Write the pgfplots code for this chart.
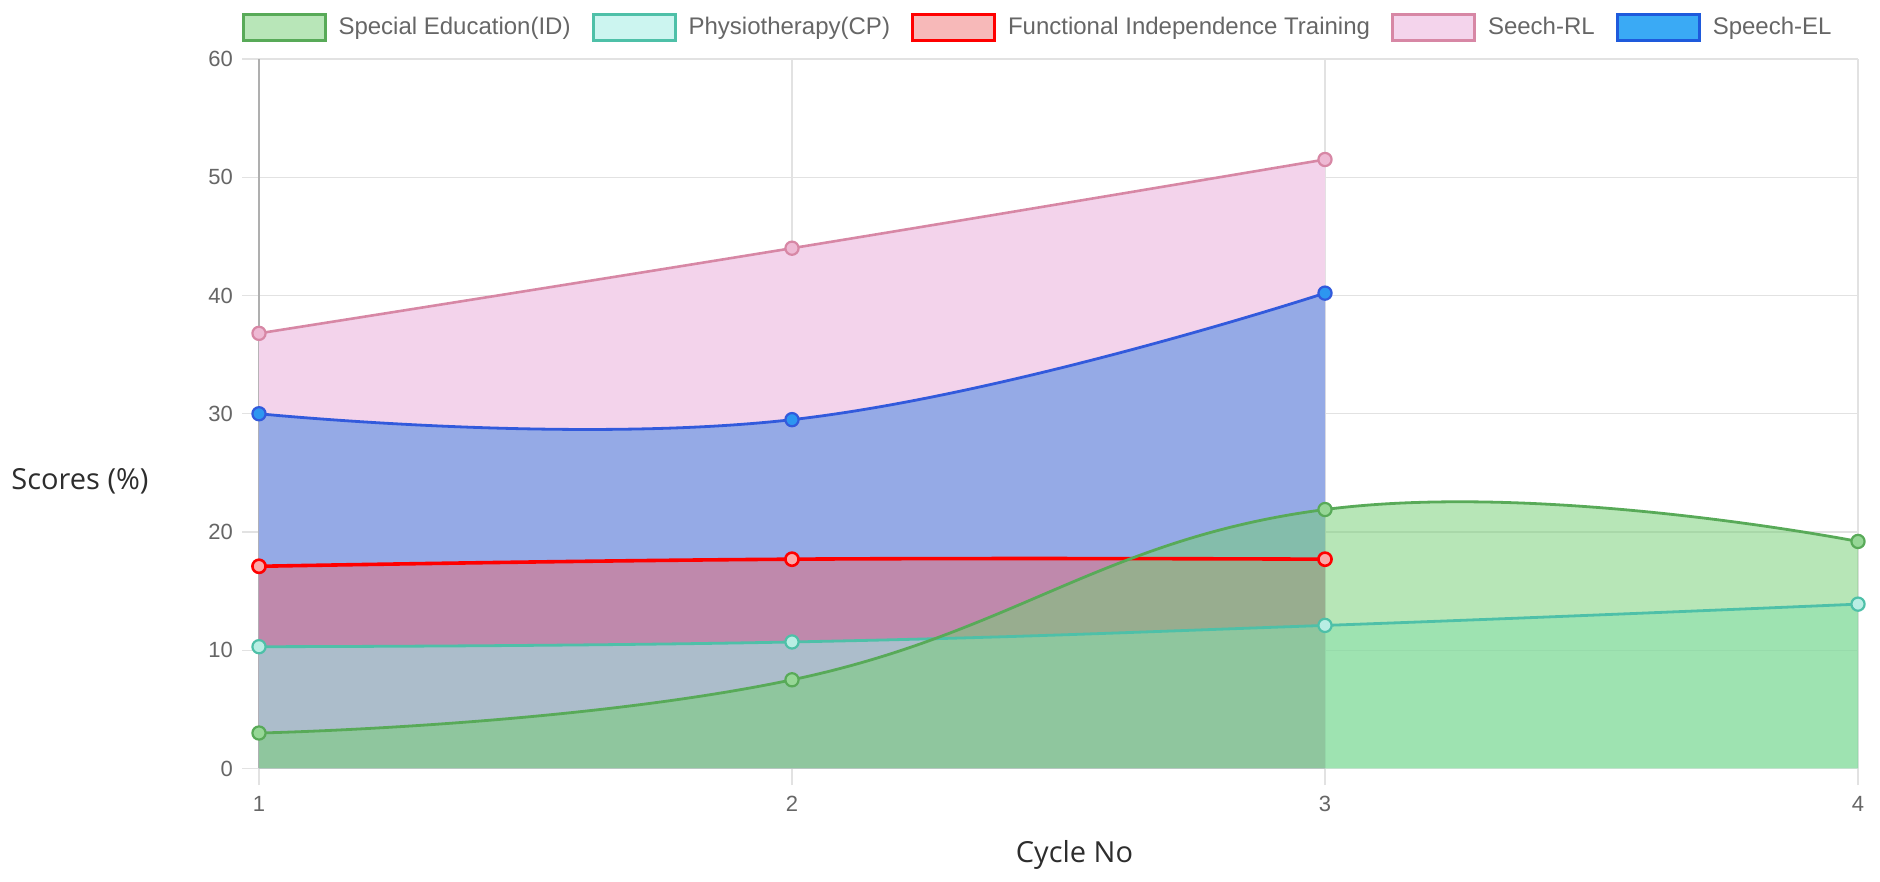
\documentclass[border=0pt]{standalone}
\usepackage{pgfplots}
\pgfplotsset{compat=1.18}
\usepackage{fontspec}
\setmainfont{Liberation Sans}
\newfontfamily\titlefont{Open Sans}

\definecolor{gridc}{RGB}{226,226,226}
\definecolor{axc}{RGB}{175,175,175}
\definecolor{tickc}{RGB}{102,102,102}
\definecolor{titc}{RGB}{45,45,45}
% fills
\definecolor{pinkF}{RGB}{243,211,235}
\definecolor{blueF}{RGB}{72,138,226}
\definecolor{redF}{RGB}{255,88,85}
\definecolor{tealF}{RGB}{154,242,234}
\definecolor{greenF}{RGB}{117,207,117}
% lines
\definecolor{greenL}{RGB}{88,170,88}
\definecolor{tealL}{RGB}{78,192,168}
\definecolor{redL}{RGB}{255,0,0}
\definecolor{pinkL}{RGB}{215,135,165}
\definecolor{blueL}{RGB}{50,90,220}
% markers
\definecolor{greenM}{RGB}{150,215,150}
\definecolor{tealM}{RGB}{185,238,228}
\definecolor{redM}{RGB}{250,170,170}
\definecolor{pinkM}{RGB}{238,185,212}
\definecolor{blueM}{RGB}{45,150,240}
% legend fills
\definecolor{greenLeg}{RGB}{184,230,184}
\definecolor{tealLeg}{RGB}{204,245,240}
\definecolor{redLeg}{RGB}{247,185,185}
\definecolor{pinkLeg}{RGB}{244,212,236}
\definecolor{blueLeg}{RGB}{58,170,245}
\definecolor{blueLegB}{RGB}{30,90,220}

\begin{document}
\begin{tikzpicture}
\useasboundingbox (-129.5pt,-56.75pt) rectangle (810.5pt,384.25pt);
\begin{axis}[
  scale only axis,
  width=799.5pt, height=354.75pt,
  xmin=1, xmax=4, ymin=0, ymax=60,
  xtick={1,2,3,4}, ytick={0,10,...,60},
  grid=major,
  grid style={gridc, line width=0.6pt},
  axis lines=left,
  x axis line style={draw=gridc, line width=0.6pt, -},
  y axis line style={draw=axc, line width=0.8pt, -},
  tick align=outside,
  major tick length=8.5pt,
  tick style={gridc, line width=0.6pt},
  /pgf/number format/assume math mode=true,
  ticklabel style={font=\fontsize{11}{12}\selectfont, text=tickc},
  xticklabel style={yshift=-2pt},
  yticklabel style={xshift=-1pt},
  xlabel={Cycle No},
  ylabel={Scores (\%)},
  every axis x label/.style={at={(axis description cs:0.51,0)}, anchor=center, yshift=-43.25pt, font=\titlefont\fontsize{14.5}{16}\selectfont, text=titc},
  every axis y label/.style={at={(axis description cs:0,0.405)}, anchor=center, xshift=-89.5pt, font=\titlefont\fontsize{14.5}{16}\selectfont, text=titc},
  legend columns=5,
  legend image code/.code={\draw[#1, line width=1.5pt] (0pt,-6.5pt) rectangle (41pt,6.5pt);},
  legend style={at={(0.49,1.045)}, anchor=center, draw=none, fill=none,
    font=\fontsize{12}{14}\selectfont, text=tickc,
    /tikz/every even column/.append style={column sep=4.5pt},
    nodes={inner xsep=6pt, inner ysep=0pt}},
]
% ---- fills (under all lines) ----
\addplot[draw=none, fill=pinkF, smooth, tension=0.75, forget plot]
  coordinates {(1,36.8) (2,44.0) (3,51.5)} \closedcycle;
\addplot[draw=none, fill=blueF, fill opacity=0.55, smooth, tension=0.75, forget plot]
  coordinates {(1,30.0) (2,29.5) (3,40.2)} \closedcycle;
\addplot[draw=none, fill=redF, fill opacity=0.4, smooth, tension=0.75, forget plot]
  coordinates {(1,17.1) (2,17.7) (3,17.7)} \closedcycle;
\addplot[draw=none, fill=tealF, fill opacity=0.5, smooth, tension=0.75, forget plot]
  coordinates {(1,10.3) (2,10.7) (3,12.1) (4,13.9)} \closedcycle;
\addplot[draw=none, fill=greenF, fill opacity=0.52, smooth, tension=0.75, forget plot]
  coordinates {(1,3.0) (2,7.5) (3,21.9) (4,19.2)} \closedcycle;
% ---- lines ----
\addplot[color=blueL, line width=1.4pt, smooth, tension=0.75, mark=*, mark size=3.3pt,
  mark options={fill=blueM, draw=blueL, line width=1.1pt}, forget plot]
  coordinates {(1,30.0) (2,29.5) (3,40.2)};
\addplot[color=pinkL, line width=1.3pt, smooth, tension=0.75, mark=*, mark size=3.3pt,
  mark options={fill=pinkM, draw=pinkL, line width=1.1pt}, forget plot]
  coordinates {(1,36.8) (2,44.0) (3,51.5)};
\addplot[color=redL, line width=1.8pt, smooth, tension=0.75, mark=*, mark size=3.3pt,
  mark options={fill=redM, draw=redL, line width=1.3pt}, forget plot]
  coordinates {(1,17.1) (2,17.7) (3,17.7)};
\addplot[color=tealL, line width=1.4pt, smooth, tension=0.75, mark=*, mark size=3.3pt,
  mark options={fill=tealM, draw=tealL, line width=1.1pt}, forget plot]
  coordinates {(1,10.3) (2,10.7) (3,12.1) (4,13.9)};
\addplot[color=greenL, line width=1.4pt, smooth, tension=0.75, mark=*, mark size=3.3pt,
  mark options={fill=greenM, draw=greenL, line width=1.1pt}, forget plot]
  coordinates {(1,3.0) (2,7.5) (3,21.9) (4,19.2)};
% ---- legend ----
\addlegendimage{draw=greenL, fill=greenLeg}
\addlegendentry{Special Education(ID)}
\addlegendimage{draw=tealL, fill=tealLeg}
\addlegendentry{Physiotherapy(CP)}
\addlegendimage{draw=redL, fill=redLeg}
\addlegendentry{Functional Independence Training}
\addlegendimage{draw=pinkL, fill=pinkLeg}
\addlegendentry{Seech-RL}
\addlegendimage{draw=blueLegB, fill=blueLeg}
\addlegendentry{Speech-EL}
\end{axis}
\end{tikzpicture}
\end{document}
